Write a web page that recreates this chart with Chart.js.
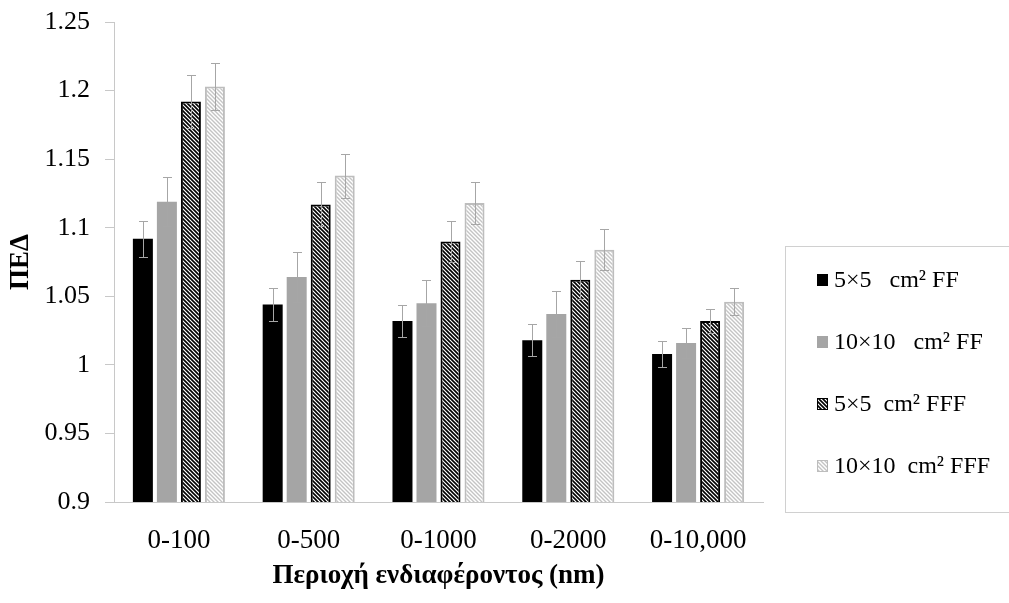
<!DOCTYPE html>
<html><head><meta charset="utf-8">
<script src="https://cdn.jsdelivr.net/npm/chart.js@4.4.1/dist/chart.umd.min.js"></script>
<style>html,body{margin:0;padding:0;background:#fff;} canvas{display:block;}</style>
</head><body>
<canvas id="c" width="1009" height="603"></canvas>
<script>
// ---- data ----
const categories = ['0-100', '0-500', '0-1000', '0-2000', '0-10,000'];
const seriesNames = ['5×5   cm² FF', '10×10   cm² FF', '5×5  cm² FFF', '10×10  cm² FFF'];
const ff5      = [1.092, 1.044, 1.032, 1.018, 1.008];
const ff5Err   = [0.013, 0.012, 0.0115, 0.0115, 0.0095];
const ff10     = [1.119, 1.064, 1.045, 1.037, 1.016];
const ff10Err  = [0.018, 0.018, 0.017, 0.017, 0.011];
const fff5     = [1.192, 1.117, 1.090, 1.062, 1.032];
const fff5Err  = [0.019, 0.016, 0.015, 0.014, 0.0085];
const fff10    = [1.203, 1.138, 1.118, 1.084, 1.046];
const fff10Err = [0.017, 0.016, 0.015, 0.015, 0.010];
const yMin = 0.9, yMax = 1.25, yStep = 0.05;
const xTitle = 'Περιοχή ενδιαφέροντος (nm)';
const yTitle = 'ΠΕΔ';

const SERIF = "'Liberation Serif', 'Times New Roman', serif";
const canvas = document.getElementById('c');
const mainCtx = canvas.getContext('2d');

function hatch(lineColor, bg, size, lw) {
  const c = document.createElement('canvas');
  c.width = c.height = size;
  const g = c.getContext('2d');
  g.fillStyle = bg; g.fillRect(0, 0, size, size);
  g.strokeStyle = lineColor; g.lineWidth = lw;
  g.beginPath();
  g.moveTo(-1, -1); g.lineTo(size + 1, size + 1);
  g.moveTo(-1, size - 1); g.lineTo(1, size + 1);
  g.moveTo(size - 1, -1); g.lineTo(size + 1, 1);
  g.stroke();
  return mainCtx.createPattern(c, 'repeat');
}
const darkHatch = hatch('#000000', '#ffffff', 4, 1.6);
const lightHatch = hatch('#c4c4c4', '#ffffff', 4, 1.4);

const errorBars = {
  id: 'errorBars',
  afterDatasetsDraw(chart) {
    const ctx = chart.ctx, y = chart.scales.y;
    chart.data.datasets.forEach((ds, i) => {
      const meta = chart.getDatasetMeta(i);
      meta.data.forEach((bar, j) => {
        const v = ds.data[j], e = ds.errors[j];
        const top = Math.round(y.getPixelForValue(v + e)) + 0.5;
        const bot = Math.round(y.getPixelForValue(v - e)) + 0.5;
        const x = Math.round(bar.x) + 0.5;
        ctx.save();
        ctx.strokeStyle = '#a6a6a6'; ctx.lineWidth = 1;
        ctx.beginPath();
        ctx.moveTo(x, top); ctx.lineTo(x, bot);
        ctx.moveTo(x - 4.5, top); ctx.lineTo(x + 4.5, top);
        ctx.moveTo(x - 4.5, bot); ctx.lineTo(x + 4.5, bot);
        ctx.stroke();
        ctx.restore();
      });
    });
  }
};

const boxLegend = {
  id: 'boxLegend',
  afterDraw(chart) {
    const ctx = chart.ctx;
    ctx.save();
    ctx.strokeStyle = '#d0d0d0'; ctx.lineWidth = 1;
    ctx.strokeRect(785.5, 246.5, 260, 266);
    const rows = [280, 342, 404, 466];
    ctx.font = '24px ' + SERIF;
    ctx.textBaseline = 'middle';
    ctx.textAlign = 'left';
    chart.data.datasets.forEach((ds, i) => {
      const yc = rows[i];
      ctx.fillStyle = ds.backgroundColor;
      ctx.fillRect(817, yc - 6, 11, 12);
      if (ds.borderWidth) {
        ctx.strokeStyle = ds.borderColor; ctx.lineWidth = 1;
        ctx.strokeRect(817.5, yc - 5.5, 10, 11);
      }
      ctx.fillStyle = '#000';
      ctx.fillText(ds.label, 834, yc + 1);
    });
    ctx.restore();
  }
};

new Chart(canvas, {
  type: 'bar',
  data: {
    labels: categories,
    datasets: [
      { label: seriesNames[0], data: ff5, errors: ff5Err, backgroundColor: '#000000', borderWidth: 0 },
      { label: seriesNames[1], data: ff10, errors: ff10Err, backgroundColor: '#a5a5a5', borderWidth: 0 },
      { label: seriesNames[2], data: fff5, errors: fff5Err, backgroundColor: darkHatch, borderColor: '#000000', borderWidth: 2, borderSkipped: false },
      { label: seriesNames[3], data: fff10, errors: fff10Err, backgroundColor: lightHatch, borderColor: '#bdbdbd', borderWidth: 2, borderSkipped: false }
    ]
  },
  options: {
    responsive: false,
    animation: false,
    events: [],
    datasets: { bar: { categoryPercentage: 0.74, barPercentage: 0.833 } },
    layout: { padding: { top: 22, right: 246, bottom: 0, left: 0 } },
    plugins: { legend: { display: false }, tooltip: { enabled: false } },
    scales: {
      x: {
        grid: { display: false },
        border: { color: '#c8c8c8', width: 1 },
        ticks: { color: '#000', font: { family: SERIF, size: 27 }, padding: 15 },
        title: { display: true, text: xTitle, color: '#000', font: { family: SERIF, size: 27, weight: 'bold' }, padding: { top: 0, bottom: 11 } },
        afterFit(s) { s.height = 101; }
      },
      y: {
        min: yMin, max: yMax,
        grid: { drawOnChartArea: false, drawTicks: true, tickLength: 9, color: '#c8c8c8' },
        border: { color: '#c8c8c8', width: 1 },
        ticks: {
          stepSize: yStep, color: '#000', font: { family: SERIF, size: 26, lineHeight: 0.5 }, padding: 15,
          callback: v => String(Number(v.toFixed(2)))
        },
        title: { display: true, text: yTitle, color: '#000', font: { family: SERIF, size: 27, weight: 'bold' }, padding: { top: 5, bottom: 0 } },
        afterFit(s) { s.width = 114; }
      }
    }
  },
  plugins: [errorBars, boxLegend]
});
</script>
</body></html>
